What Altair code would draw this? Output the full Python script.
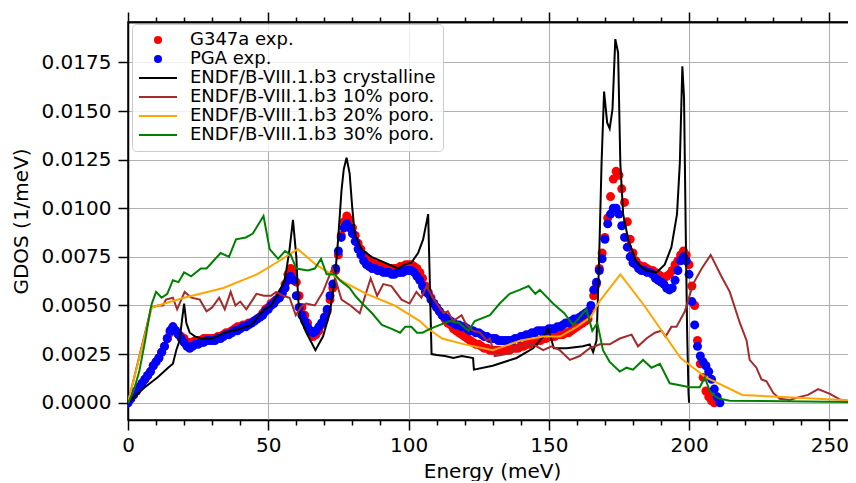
import altair as alt
import pandas as pd

NAMES = [
    "G347a exp.",
    "PGA exp.",
    "ENDF/B-VIII.1.b3 crystalline",
    "ENDF/B-VIII.1.b3 10% poro.",
    "ENDF/B-VIII.1.b3 20% poro.",
    "ENDF/B-VIII.1.b3 30% poro.",
]
COLORS = ["#ff0000", "#0000ff", "#000000", "#a52a2a", "#ffa500", "#008000"]
LINE_SYMBOL = "M-4.75,-0.25H4.75V0.25H-4.75Z"
SHAPES = ["circle", "circle", LINE_SYMBOL, LINE_SYMBOL, LINE_SYMBOL, LINE_SYMBOL]

X_MAJOR = [0, 50, 100, 150, 200, 250]
X_MINOR = [10, 20, 30, 40, 60, 70, 80, 90, 110, 120, 130, 140,
           160, 170, 180, 190, 210, 220, 230, 240]
Y_TICKS = [0.0, 0.0025, 0.005, 0.0075, 0.01, 0.0125, 0.015, 0.0175]

# experimental GDOS (1 meV steps)
red_E = list(range(0, 210))
red_G = [
    0.0000, 0.0002, 0.0004, 0.0006, 0.0008, 0.0010, 0.0012, 0.0014, 0.0016, 0.0019,
    0.0021, 0.0023, 0.0026, 0.0029, 0.0033, 0.0036, 0.0039, 0.0037, 0.0035, 0.0034,
    0.0033, 0.0031, 0.0031, 0.0031, 0.0032, 0.0032, 0.0032, 0.0033, 0.0033, 0.0033,
    0.0033, 0.0033, 0.0034, 0.0034, 0.0035, 0.0036, 0.0036, 0.0037, 0.0038, 0.0039,
    0.0039, 0.0040, 0.0040, 0.0041, 0.0041, 0.0042, 0.0043, 0.0044, 0.0046, 0.0048,
    0.0049, 0.0051, 0.0052, 0.0053, 0.0055, 0.0057, 0.0061, 0.0066, 0.0069, 0.0067,
    0.0062, 0.0055, 0.0049, 0.0045, 0.0041, 0.0037, 0.0034, 0.0035, 0.0037, 0.0040,
    0.0043, 0.0047, 0.0053, 0.0059, 0.0068, 0.0076, 0.0086, 0.0093, 0.0096, 0.0094,
    0.0090, 0.0086, 0.0082, 0.0079, 0.0076, 0.0074, 0.0073, 0.0072, 0.0071, 0.0071,
    0.0070, 0.0070, 0.0069, 0.0069, 0.0069, 0.0069, 0.0069, 0.0070, 0.0070, 0.0071,
    0.0071, 0.0071, 0.0070, 0.0069, 0.0067, 0.0064, 0.0060, 0.0057, 0.0054, 0.0051,
    0.0049, 0.0047, 0.0045, 0.0043, 0.0041, 0.0040, 0.0038, 0.0037, 0.0036, 0.0035,
    0.0034, 0.0033, 0.0032, 0.0031, 0.0030, 0.0030, 0.0029, 0.0028, 0.0028, 0.0027,
    0.0027, 0.0027, 0.0027, 0.0027, 0.0027, 0.0027, 0.0027, 0.0028, 0.0028, 0.0028,
    0.0029, 0.0029, 0.0030, 0.0030, 0.0031, 0.0031, 0.0032, 0.0032, 0.0033, 0.0033,
    0.0034, 0.0034, 0.0034, 0.0035, 0.0035, 0.0035, 0.0036, 0.0036, 0.0037, 0.0038,
    0.0039, 0.0040, 0.0041, 0.0042, 0.0043, 0.0048, 0.0055, 0.0061, 0.0069, 0.0077,
    0.0085, 0.0095, 0.0106, 0.0115, 0.0119, 0.0117, 0.0110, 0.0103, 0.0093, 0.0084,
    0.0077, 0.0073, 0.0071, 0.0070, 0.0070, 0.0069, 0.0068, 0.0068, 0.0067, 0.0066,
    0.0065, 0.0064, 0.0065, 0.0066, 0.0068, 0.0071, 0.0073, 0.0076, 0.0078, 0.0076,
    0.0071, 0.0060, 0.0050, 0.0032, 0.0020, 0.0013, 0.0006, 0.0003, 0.0001, 0.0000,
]
blue_E = list(range(0, 212))
blue_G = [
    0.0000, 0.0002, 0.0004, 0.0006, 0.0008, 0.0010, 0.0012, 0.0014, 0.0016, 0.0019,
    0.0021, 0.0023, 0.0026, 0.0029, 0.0033, 0.0037, 0.0039, 0.0037, 0.0035, 0.0033,
    0.0031, 0.0029, 0.0028, 0.0029, 0.0030, 0.0030, 0.0031, 0.0031, 0.0032, 0.0032,
    0.0032, 0.0032, 0.0033, 0.0033, 0.0034, 0.0035, 0.0035, 0.0036, 0.0037, 0.0037,
    0.0038, 0.0039, 0.0039, 0.0040, 0.0041, 0.0042, 0.0043, 0.0044, 0.0045, 0.0047,
    0.0048, 0.0050, 0.0051, 0.0053, 0.0054, 0.0056, 0.0059, 0.0063, 0.0065, 0.0063,
    0.0055, 0.0049, 0.0045, 0.0042, 0.0039, 0.0037, 0.0036, 0.0037, 0.0039, 0.0041,
    0.0044, 0.0048, 0.0055, 0.0061, 0.0069, 0.0078, 0.0085, 0.0090, 0.0092, 0.0090,
    0.0087, 0.0083, 0.0079, 0.0076, 0.0073, 0.0071, 0.0070, 0.0069, 0.0069, 0.0068,
    0.0068, 0.0067, 0.0067, 0.0067, 0.0066, 0.0066, 0.0067, 0.0067, 0.0067, 0.0068,
    0.0068, 0.0068, 0.0067, 0.0065, 0.0063, 0.0060, 0.0057, 0.0056, 0.0053, 0.0051,
    0.0049, 0.0047, 0.0045, 0.0044, 0.0043, 0.0042, 0.0041, 0.0040, 0.0040, 0.0039,
    0.0039, 0.0038, 0.0037, 0.0037, 0.0036, 0.0036, 0.0035, 0.0034, 0.0034, 0.0033,
    0.0033, 0.0033, 0.0032, 0.0032, 0.0032, 0.0032, 0.0032, 0.0032, 0.0033, 0.0033,
    0.0034, 0.0034, 0.0035, 0.0035, 0.0036, 0.0036, 0.0037, 0.0037, 0.0037, 0.0037,
    0.0038, 0.0038, 0.0038, 0.0039, 0.0039, 0.0040, 0.0041, 0.0041, 0.0042, 0.0043,
    0.0043, 0.0044, 0.0045, 0.0046, 0.0047, 0.0050, 0.0058, 0.0062, 0.0068, 0.0074,
    0.0084, 0.0092, 0.0097, 0.0100, 0.0100, 0.0097, 0.0091, 0.0085, 0.0080, 0.0075,
    0.0072, 0.0071, 0.0069, 0.0068, 0.0068, 0.0067, 0.0067, 0.0066, 0.0064, 0.0063,
    0.0062, 0.0061, 0.0059, 0.0058, 0.0059, 0.0063, 0.0068, 0.0073, 0.0075, 0.0073,
    0.0066, 0.0052, 0.0040, 0.0029, 0.0024, 0.0021, 0.0019, 0.0016, 0.0012, 0.0007,
    0.0003, 0.0000,
]

# ENDF/B-VIII.1.b3 crystalline
black_E = [0, 3, 6, 10.5, 14.3, 16, 17.2, 18.4, 19.2, 20,
           20.8, 22, 24, 26.2, 30, 34.5, 40, 44, 48.7, 51.1,
           53.5, 55.9, 57.6, 58.8, 60, 60.6, 61.2, 63.6, 66.8, 69.5,
           71.9, 73.7, 74.9, 76.1, 76.9, 77.9, 79, 79.9, 80.8, 83.2,
           86.8, 91.5, 96.3, 98.6, 101, 103.4, 105.2, 107, 108.2, 110,
           113, 116, 119, 123, 123.3, 130, 138.5, 144.4, 148, 149.8,
           151.8, 156.3, 162.2, 164.6, 165.8, 167, 167.9, 168.8, 169.7, 170.8,
           171.7, 172.7, 173.7, 174.7, 175.5, 176.5, 178.3, 181.3, 184.8, 188.4,
           191.3, 193.7, 195.7, 196.7, 197.6, 198.2, 198.8, 199.3, 199.8, 200]
black_G = [0, 0.0004, 0.0008, 0.0013, 0.0018, 0.0020, 0.0027, 0.0032, 0.0042, 0.0051,
           0.0041, 0.0036, 0.0034, 0.0033, 0.0033, 0.0036, 0.0038, 0.0040, 0.0048, 0.0050,
           0.0056, 0.0063, 0.0079, 0.0094, 0.0075, 0.0055, 0.0044, 0.0036, 0.0027, 0.0034,
           0.0046, 0.0063, 0.0084, 0.0109, 0.0120, 0.0126, 0.0118, 0.0101, 0.0087, 0.0079,
           0.0075, 0.0072, 0.0069, 0.0071, 0.0072, 0.0077, 0.0084, 0.0097, 0.0025, 0.00245,
           0.0024, 0.0023, 0.0024, 0.0023, 0.0017, 0.0019, 0.0023, 0.0028, 0.0034, 0.0038,
           0.0028, 0.0028, 0.0029, 0.0030, 0.0026, 0.0032, 0.0072, 0.0123, 0.0160, 0.0144,
           0.0141, 0.0151, 0.0187, 0.0180, 0.0123, 0.0097, 0.0084, 0.0072, 0.0068, 0.0067,
           0.0071, 0.0080, 0.0097, 0.0123, 0.0173, 0.0157, 0.0089, 0.0037, 0.0005, 0]

# ENDF/B-VIII.1.b3 10% porosity
brown_E = [0, 8.3, 10.7, 12.5, 13.5, 16, 17.5, 20.2, 22.6, 25.6,
           28, 30, 32.5, 34.5, 36.6, 38.3, 40, 42.2, 45.8, 48.5,
           51, 52.8, 55.3, 57.6, 59.8, 61.5, 63.5, 66.6, 69.5, 72.8,
           76.1, 79.3, 82.6, 86.5, 88.8, 91, 93.9, 97.5, 100.4, 102.8,
           104.6, 106.4, 108.2, 111, 112.5, 114, 115.9, 118.9, 120.6, 123,
           125.5, 127.8, 129, 130.7, 134.9, 139.6, 144.4, 148, 151, 153.9,
           157.5, 161, 164.6, 168.2, 171.7, 175.3, 179.5, 181.8, 184.8, 187.8,
           190.2, 191.6, 193.7, 195.5, 198.5, 201.4, 204.5, 207.7, 211.5, 214.5,
           218.1, 220.5, 221.6, 224, 225.8, 227.6, 230, 232.3, 235.9, 239.5,
           242.4, 246, 250.2, 253.7, 259.5]
brown_G = [0, 0.0049, 0.0050, 0.0050, 0.0053, 0.0054, 0.0048, 0.0057, 0.0054, 0.0053,
           0.0047, 0.0049, 0.0054, 0.0048, 0.0057, 0.0050, 0.0052, 0.0048, 0.0056, 0.0055,
           0.0055, 0.0057, 0.0055, 0.0054, 0.0045, 0.0049, 0.0051, 0.0050, 0.0057, 0.0069,
           0.0053, 0.0050, 0.0046, 0.0064, 0.0055, 0.0061, 0.0060, 0.0053, 0.0051, 0.0057,
           0.0054, 0.0060, 0.0055, 0.0049, 0.0046, 0.0047, 0.0042, 0.0045, 0.0040, 0.0037,
           0.0036, 0.0032, 0.0033, 0.0024, 0.0025, 0.0029, 0.0030, 0.0027, 0.0029, 0.0027,
           0.0022, 0.0024, 0.0028, 0.0030, 0.0030, 0.0033, 0.0035, 0.0029, 0.0033, 0.0036,
           0.0037, 0.0034, 0.0039, 0.0039, 0.0047, 0.0061, 0.0069, 0.0076, 0.0065, 0.0057,
           0.0041, 0.0032, 0.0022, 0.0018, 0.0012, 0.0011, 0.0005, 0.0002, 0.00014, 0.0003,
           0.0004, 0.0007, 0.00045, 0.00017, 0.0]

# ENDF/B-VIII.1.b3 20% porosity
orange_E = [0, 8.5, 13, 20, 34, 46, 54, 60.5, 67, 77,
            85, 95, 104, 107, 112, 120, 130, 140, 148, 154,
            160, 165, 168, 175.5, 184, 197, 206, 219, 260]
orange_G = [0, 0.0049, 0.0051, 0.0054, 0.0059, 0.0066, 0.0073, 0.0079, 0.0071, 0.0062,
            0.0056, 0.0050, 0.0042, 0.0038, 0.0033, 0.0030, 0.0027, 0.0032, 0.0034, 0.0034,
            0.0039, 0.0044, 0.0052, 0.0066, 0.0050, 0.0023, 0.0013, 0.0004, 0.0001]

# ENDF/B-VIII.1.b3 30% porosity
green_E = [0, 2, 4, 6, 8, 8.5, 10, 12, 14, 16,
           18, 20, 22.5, 26, 28, 30.5, 33, 36, 38.5, 42,
           44.5, 48.3, 50.5, 53.5, 56, 58, 60, 64, 66.6, 68.8,
           70.8, 73.7, 75.5, 79, 81, 83.5, 87, 90.5, 94, 97,
           98.8, 101, 103, 105, 107.6, 114.7, 118, 121.4, 123.6, 129,
           132.5, 136, 139.6, 142.8, 145.2, 146.8, 151.5, 155.5, 158.6, 161,
           163.4, 165.5, 167.3, 169.3, 171.7, 175.3, 177.7, 180, 183.6, 186.6,
           189.6, 193.1, 196.7, 200.2, 203.8, 205.6, 207.4, 209.5, 211, 214.5,
           260]
green_G = [0, 0.0006, 0.0016, 0.0031, 0.0048, 0.0051, 0.0057, 0.0054, 0.0056, 0.0063,
           0.0062, 0.0067, 0.0065, 0.0069, 0.0069, 0.0073, 0.0077, 0.0075, 0.0084, 0.0085,
           0.0087, 0.0096, 0.0079, 0.0074, 0.0078, 0.0076, 0.0069, 0.0068, 0.0069, 0.0074,
           0.0066, 0.0066, 0.0063, 0.0059, 0.0055, 0.0051, 0.0046, 0.0040, 0.0038, 0.0036,
           0.0039, 0.0039, 0.0036, 0.0036, 0.0038, 0.0042, 0.0041, 0.0037, 0.0042, 0.0045,
           0.0051, 0.0056, 0.0058, 0.0060, 0.0056, 0.0058, 0.0051, 0.0046, 0.0040, 0.0044,
           0.0048, 0.0037, 0.0041, 0.0027, 0.0021, 0.0016, 0.0018, 0.0017, 0.0022, 0.0018,
           0.0020, 0.0010, 0.0009, 0.0008, 0.0008, 0.0013, 0.0006, 0.0003, 0.0002, 0.0001,
           0.00003]

# ---------------------------------------------------------------- scales
xscale = alt.Scale(domain=[0, 259.5], nice=False, zero=False)
yscale = alt.Scale(domain=[-0.00089, 0.01958], nice=False, zero=False)
color_scale = alt.Scale(domain=NAMES, range=COLORS)
shape_scale = alt.Scale(domain=NAMES, range=SHAPES)

FONT = "DejaVu Sans"

legend = alt.Legend(
    title=None, orient="none", legendX=4, legendY=2,
    symbolSize=64, symbolStrokeWidth=0, symbolOffset=10,
    labelOffset=23, labelFontSize=18, labelFont=FONT, labelColor="black",
    labelLimit=400, padding=7, rowPadding=1,
    fillColor="rgba(255,255,255,0.8)", strokeColor="#cccccc", cornerRadius=4,
)

x_main = alt.Axis(
    orient="bottom", values=X_MAJOR, grid=True, gridColor="#b0b0b0", gridWidth=1.1,
    tickSize=10, tickWidth=1.5, tickColor="black", domain=True,
    domainColor="black", domainWidth=1.5, labelFontSize=20, labelFont=FONT,
    labelColor="black", labelPadding=5, labelFlush=False, labelOverlap=False,
    title="Energy (meV)", titleFontSize=20, titleFont=FONT,
    titleFontWeight="normal", titleColor="black", titlePadding=6,
)
y_main = alt.Axis(
    orient="left", values=Y_TICKS, format=".4f", grid=True, gridColor="#b0b0b0",
    gridWidth=1.1, tickSize=10, tickWidth=1.5, tickColor="black", domain=True,
    domainColor="black", domainWidth=1.5, labelFontSize=20, labelFont=FONT,
    labelColor="black", labelPadding=7, labelFlush=False, labelOverlap=False,
    title="GDOS (1/meV)", titleFontSize=20, titleFont=FONT,
    titleFontWeight="normal", titleColor="black", titlePadding=10,
)

pts = pd.concat([
    pd.DataFrame({"E": red_E, "G": red_G, "series": NAMES[0]}),
    pd.DataFrame({"E": blue_E, "G": blue_G, "series": NAMES[1]}),
], ignore_index=True)

points = alt.Chart(pts).mark_point(
    filled=True, size=81, opacity=1, strokeWidth=0, clip=True
).encode(
    x=alt.X("E:Q", scale=xscale, axis=x_main),
    y=alt.Y("G:Q", scale=yscale, axis=y_main),
    color=alt.Color("series:N", scale=color_scale, legend=legend),
    shape=alt.Shape("series:N", scale=shape_scale, legend=legend),
)


def line_layer(E, G, name):
    df = pd.DataFrame({"E": E, "G": G, "series": name})
    return alt.Chart(df).mark_line(strokeWidth=2, clip=True).encode(
        x=alt.X("E:Q", scale=xscale, axis=None),
        y=alt.Y("G:Q", scale=yscale, axis=None),
        color=alt.Color("series:N", scale=color_scale, legend=None),
    )


lines = [
    line_layer(black_E, black_G, NAMES[2]),
    line_layer(brown_E, brown_G, NAMES[3]),
    line_layer(orange_E, orange_G, NAMES[4]),
    line_layer(green_E, green_G, NAMES[5]),
]


def tick_layer(vals, orient, size):
    ax = alt.Axis(orient=orient, values=vals, labels=False, grid=False,
                  ticks=True, tickSize=size, tickWidth=1.5, tickColor="black",
                  domain=(orient == "top"), domainColor="black", domainWidth=1.5,
                  title=None)
    return alt.Chart(pd.DataFrame({"E": vals})).mark_tick(opacity=0).encode(
        x=alt.X("E:Q", scale=xscale, axis=ax)
    )


chart = alt.layer(
    points, *lines,
    tick_layer(X_MINOR, "bottom", 5),
    tick_layer(X_MAJOR, "top", 10),
    tick_layer(X_MINOR, "top", 5),
).resolve_axis(x="independent", y="independent").properties(
    width=728, height=398,
    autosize=alt.AutoSizeParams(type="none"),
    padding={"left": 120, "top": 14, "right": -8, "bottom": 61},
).configure(font=FONT).configure_view(stroke="black", strokeWidth=1.5)

chart.save("out.html", embed_options={"renderer": "svg", "actions": False})
